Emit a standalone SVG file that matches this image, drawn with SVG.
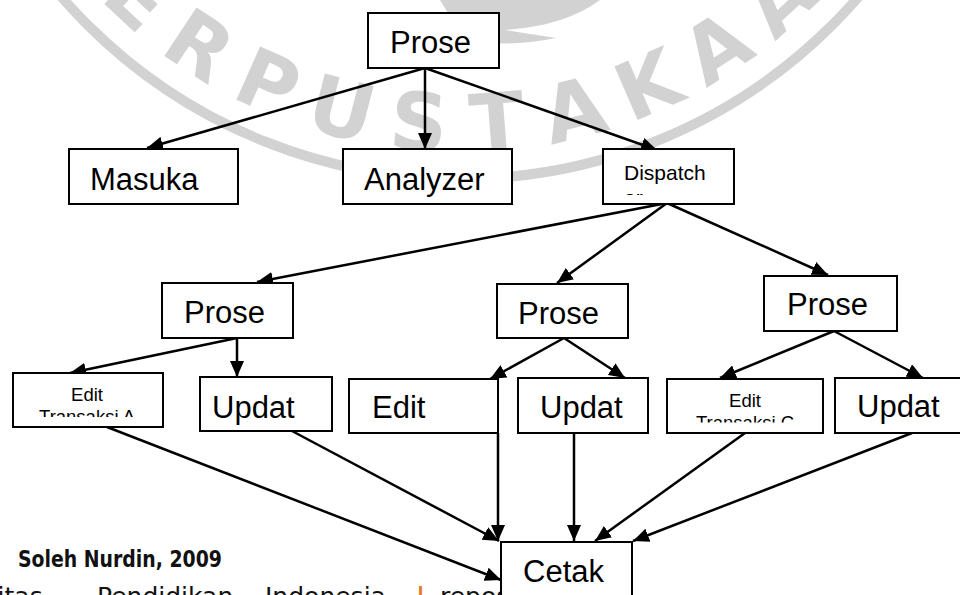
<svg xmlns="http://www.w3.org/2000/svg" width="960" height="595" viewBox="0 0 960 595">
  <style>
    .box { fill: #ffffff; stroke: #000000; stroke-width: 2; }
    .lbl { font-family: "Liberation Sans", Arial, sans-serif; font-size: 31px; fill: #000000; }
    .sm { font-family: "Liberation Sans", Arial, sans-serif; font-size: 18.5px; fill: #000000; }
    .md { font-family: "Liberation Sans", Arial, sans-serif; font-size: 21px; fill: #000000; }
    .wm { font-family: "DejaVu Sans", "Liberation Sans", sans-serif; font-weight: bold; font-size: 80px; fill: #d2d2d2; }
    .edge { stroke: #000000; stroke-width: 2.5; fill: none; marker-end: url(#ah); }
  </style>
  <defs>
    <marker id="ah" viewBox="0 0 16 14" refX="16" refY="7" markerWidth="16" markerHeight="14" orient="auto" markerUnits="userSpaceOnUse">
      <path d="M0,0 L16,7 L0,14 z" fill="#000000"/>
    </marker>
    <clipPath id="clipDispatch"><rect x="603" y="150" width="131" height="45"/></clipPath>
    <clipPath id="clipEditA"><rect x="14" y="374" width="148" height="43"/></clipPath>
    <clipPath id="clipEditC"><rect x="668" y="380" width="155" height="42.5"/></clipPath>
    <clipPath id="clipFooter"><rect x="0" y="575" width="500" height="30"/></clipPath>
  </defs>

  <rect width="960" height="595" fill="#ffffff"/>

  <!-- library stamp in the background -->
  <g id="stamp">
    <circle cx="460" cy="-348" r="527" fill="none" stroke="#d2d2d2" stroke-width="10"/>
    <path d="M440,0 L600,0 Q565,26 505,30 L556,38 Q505,48 472,40 Q452,22 440,0 Z" fill="#d2d2d2"/>
    <g class="wm" text-anchor="middle">
      <text transform="translate(460,-348) rotate(43) translate(0,500)">E</text>
      <text transform="translate(460,-348) rotate(33.5) translate(0,500)">R</text>
      <text transform="translate(460,-348) rotate(24) translate(0,500)">P</text>
      <text transform="translate(460,-348) rotate(14.5) translate(0,500)">U</text>
      <text transform="translate(460,-348) rotate(5) translate(0,500)">S</text>
      <text transform="translate(460,-348) rotate(-4.5) translate(0,500)">T</text>
      <text transform="translate(460,-348) rotate(-14) translate(0,500)">A</text>
      <text transform="translate(460,-348) rotate(-23.5) translate(0,500)">K</text>
      <text transform="translate(460,-348) rotate(-33) translate(0,500)">A</text>
      <text transform="translate(460,-348) rotate(-42.5) translate(0,500)">A</text>
    </g>
  </g>

  <!-- connectors -->
  <g id="connectors">
    <line class="edge" x1="425" y1="68" x2="147" y2="148"/>
    <line class="edge" x1="425" y1="68" x2="425" y2="149"/>
    <line class="edge" x1="425" y1="68" x2="657" y2="150"/>
    <line class="edge" x1="667" y1="203" x2="257" y2="282"/>
    <line class="edge" x1="667" y1="203" x2="557" y2="283"/>
    <line class="edge" x1="667" y1="203" x2="828" y2="275"/>
    <line class="edge" x1="237" y1="338" x2="70" y2="373"/>
    <line class="edge" x1="237" y1="338" x2="237" y2="377"/>
    <line class="edge" x1="564" y1="338" x2="490" y2="379"/>
    <line class="edge" x1="564" y1="338" x2="625" y2="378"/>
    <line class="edge" x1="834" y1="331" x2="720" y2="378"/>
    <line class="edge" x1="834" y1="331" x2="923" y2="378"/>
    <line class="edge" x1="107" y1="427" x2="501" y2="580"/>
    <line class="edge" x1="292" y1="431" x2="499" y2="541"/>
    <line class="edge" x1="498" y1="433" x2="498" y2="541"/>
    <line class="edge" x1="574" y1="433" x2="574" y2="541"/>
    <line class="edge" x1="745" y1="433" x2="595" y2="541"/>
    <line class="edge" x1="912" y1="433" x2="633" y2="541"/>
  </g>

  <!-- footer -->
  <text x="18" y="567" font-family="DejaVu Sans, sans-serif" font-weight="bold" font-size="23" textLength="204" lengthAdjust="spacingAndGlyphs" fill="#111111">Soleh Nurdin, 2009</text>
  <g clip-path="url(#clipFooter)">
    <text y="605" font-family="DejaVu Sans, sans-serif" font-size="25" fill="#111111"><tspan x="-97">Universitas</tspan><tspan x="97">Pendidikan</tspan><tspan x="265">Indonesia</tspan><tspan x="416" fill="#e87722" font-weight="bold">|</tspan><tspan x="440">repository.upi.edu</tspan></text>
  </g>

  <!-- nodes -->
  <g id="n-prose-top">
    <rect class="box" x="368" y="13" width="131" height="55"/>
    <text class="lbl" x="390" y="53">Prose</text>
  </g>
  <g id="n-masuka">
    <rect class="box" x="69" y="149" width="169" height="55"/>
    <text class="lbl" x="90" y="190">Masuka</text>
  </g>
  <g id="n-analyzer">
    <rect class="box" x="343" y="149" width="169" height="55"/>
    <text class="lbl" x="364" y="190">Analyzer</text>
  </g>
  <g id="n-dispatch">
    <rect class="box" x="603" y="149" width="131" height="55"/>
    <g clip-path="url(#clipDispatch)">
      <text class="md" x="624" y="180">Dispatch</text>
      <text class="md" x="624" y="205">er</text>
    </g>
  </g>
  <g id="n-prose-a">
    <rect class="box" x="162" y="283" width="131" height="55"/>
    <text class="lbl" x="184" y="323">Prose</text>
  </g>
  <g id="n-prose-b">
    <rect class="box" x="497" y="284" width="131" height="54"/>
    <text class="lbl" x="518" y="324">Prose</text>
  </g>
  <g id="n-prose-c">
    <rect class="box" x="764" y="276" width="133" height="55"/>
    <text class="lbl" x="787" y="315">Prose</text>
  </g>
  <g id="n-edit-a">
    <rect class="box" x="13" y="373" width="150" height="54"/>
    <g clip-path="url(#clipEditA)">
      <text class="sm" x="87" y="401" text-anchor="middle">Edit</text>
      <text class="sm" x="87" y="423" text-anchor="middle">Transaksi A</text>
    </g>
  </g>
  <g id="n-updat-a">
    <rect class="box" x="200" y="377" width="132" height="54"/>
    <text class="lbl" x="212" y="418">Updat</text>
  </g>
  <g id="n-edit-b">
    <rect class="box" x="349" y="379" width="149" height="54"/>
    <text class="lbl" x="372" y="418">Edit</text>
  </g>
  <g id="n-updat-b">
    <rect class="box" x="518" y="378" width="130" height="55"/>
    <text class="lbl" x="540" y="418">Updat</text>
  </g>
  <g id="n-edit-c">
    <rect class="box" x="667" y="379" width="156" height="54"/>
    <g clip-path="url(#clipEditC)">
      <text class="sm" x="745" y="407" text-anchor="middle">Edit</text>
      <text class="sm" x="745" y="429" text-anchor="middle">Transaksi C</text>
    </g>
  </g>
  <g id="n-updat-c">
    <rect class="box" x="835" y="378" width="131" height="55"/>
    <text class="lbl" x="857" y="417">Updat</text>
  </g>
  <g id="n-cetak">
    <rect class="box" x="501" y="542" width="131" height="80"/>
    <text class="lbl" x="523" y="582">Cetak</text>
  </g>
</svg>
